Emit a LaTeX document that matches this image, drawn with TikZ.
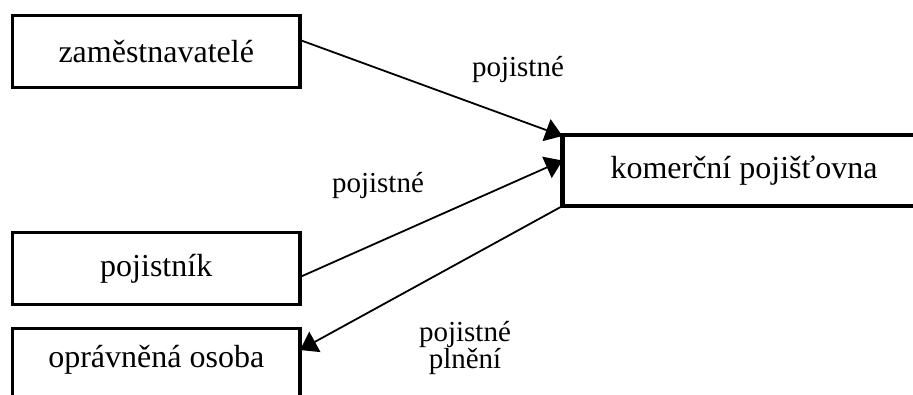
\documentclass[tikz,border=0pt]{standalone}
\usepackage{fontspec}
\setmainfont{Liberation Serif}
\usetikzlibrary{arrows.meta}
\begin{document}
\begin{tikzpicture}[x=1pt,y=-1pt,
  box/.style={draw, line width=3.6pt, inner sep=0pt, outer sep=0pt,
    minimum width=287.5pt, minimum height=72pt,
    font=\fontsize{32}{38}\selectfont},
  flow/.style={line width=1.8pt, -{Triangle[length=17pt,width=23pt]}},
  lbl/.style={font=\fontsize{29}{29}\selectfont, align=center, inner sep=0pt}]
  \useasboundingbox (0,0) rectangle (913,394);
  \clip (0,0) rectangle (913,394);

  % parties
  \node[box] (zam) at (156.25,51.5) {zaměstnavatelé};
  \node[box] (pojistnik) at (156.25,268.5) {pojistník};
  \node[box, minimum height=100pt, anchor=north] (osoba) at (156.25,328.5) {};
  \node[font=\fontsize{32}{38}\selectfont] (osobatext) at (156.25,360) {oprávněná osoba};

  % insurer
  \node[box, line width=4.6pt, minimum width=363pt, minimum height=71pt]
    (kom) at (744,170.5) {komerční pojišťovna};

  % flows of money
  \draw[flow] ([yshift=11.5pt]zam.east) -- ([yshift=-1pt]kom.north west);
  \draw[flow] ([yshift=-8.5pt]pojistnik.east) -- ([yshift=10pt]kom.west);
  \draw[flow] (kom.south west) -- ([yshift=-21.5pt]osoba.north east);

  % labels
  \node[lbl] (l1) at (518,70) {pojistné};
  \node[lbl] (l2) at (378,186) {pojistné};
  \node[lbl] (l3) at (465,348) {pojistné\\[-2pt]plnění};
\end{tikzpicture}
\end{document}
